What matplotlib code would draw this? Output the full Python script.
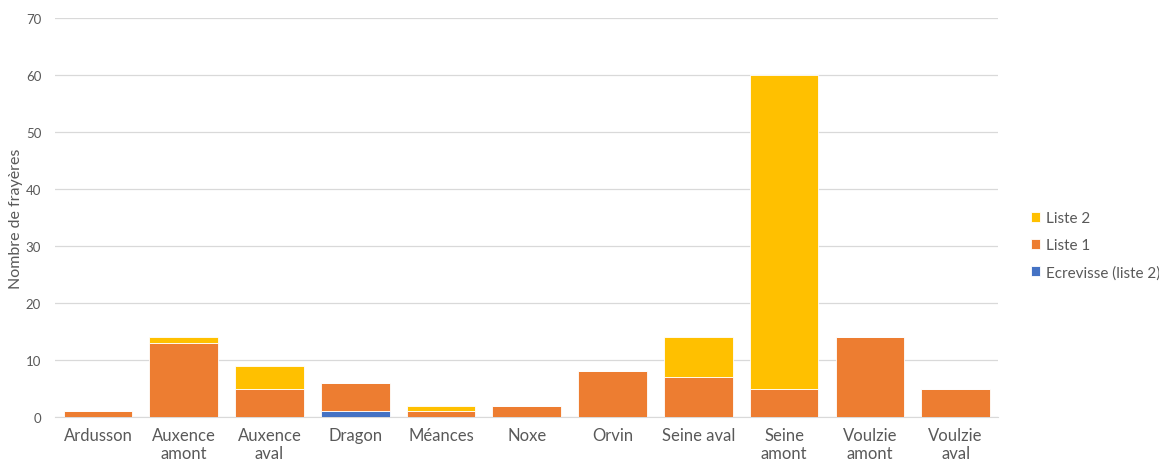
import matplotlib
matplotlib.use("Agg")
import matplotlib.pyplot as plt
import numpy as np

categories = ["Ardusson", "Auxence\namont", "Auxence\naval", "Dragon", "Méances", "Noxe",
              "Orvin", "Seine aval", "Seine\namont", "Voulzie\namont", "Voulzie\naval"]
ecrevisse = [0, 0, 0, 1, 0, 0, 0, 0, 0, 0, 0]
liste1 = [1, 13, 5, 5, 1, 2, 8, 7, 5, 14, 5]
liste2 = [0, 1, 4, 0, 1, 0, 0, 7, 55, 0, 0]

plt.rcParams['font.family'] = ['Lato', 'DejaVu Sans']
fig = plt.figure(figsize=(11.59, 4.64), dpi=100)
ax = fig.add_axes([0.0475, 0.099, 0.814, 0.86])

x = np.arange(len(categories))
e = np.array(ecrevisse)
l1 = np.array(liste1)
l2 = np.array(liste2)
w = 0.8
b1 = ax.bar(x, e, w, color="#4472C4", edgecolor="white", linewidth=0.6, label="Ecrevisse (liste 2)", zorder=3)
b2 = ax.bar(x, l1, w, bottom=e, color="#ED7D31", edgecolor="white", linewidth=0.6, label="Liste 1", zorder=3)
b3 = ax.bar(x, l2, w, bottom=e + l1, color="#FFC000", edgecolor="white", linewidth=0.6, label="Liste 2", zorder=3)

ax.set_xlim(-0.5, len(categories) - 0.5)
ax.set_ylim(0, 70)
ax.set_yticks(range(0, 71, 10))
ax.yaxis.grid(True, color="#D9D9D9", linewidth=0.9, zorder=0)
for s in ["top", "right", "left"]:
    ax.spines[s].set_visible(False)
ax.spines["bottom"].set_color("#D9D9D9")
ax.tick_params(axis="both", length=0, colors="#595959")
ax.tick_params(axis="y", labelsize=9.5, pad=10)
ax.tick_params(axis="x", labelsize=12, pad=7)
ax.set_xticks(x)
ax.set_xticklabels(categories, linespacing=1.2)
ax.set_ylabel("Nombre de frayères", fontsize=11.5, color="#595959")
ax.yaxis.set_label_coords(-0.034, 0.5)

handles = [b3, b2, b1]
leg = ax.legend(handles, [h.get_label() for h in handles], loc="center left",
                bbox_to_anchor=(1.02, 0.43), frameon=False, fontsize=11,
                handlelength=0.6, handleheight=0.6, handletextpad=0.4, labelspacing=0.85,
                labelcolor="#595959")

fig.savefig("out.png", dpi=100)
